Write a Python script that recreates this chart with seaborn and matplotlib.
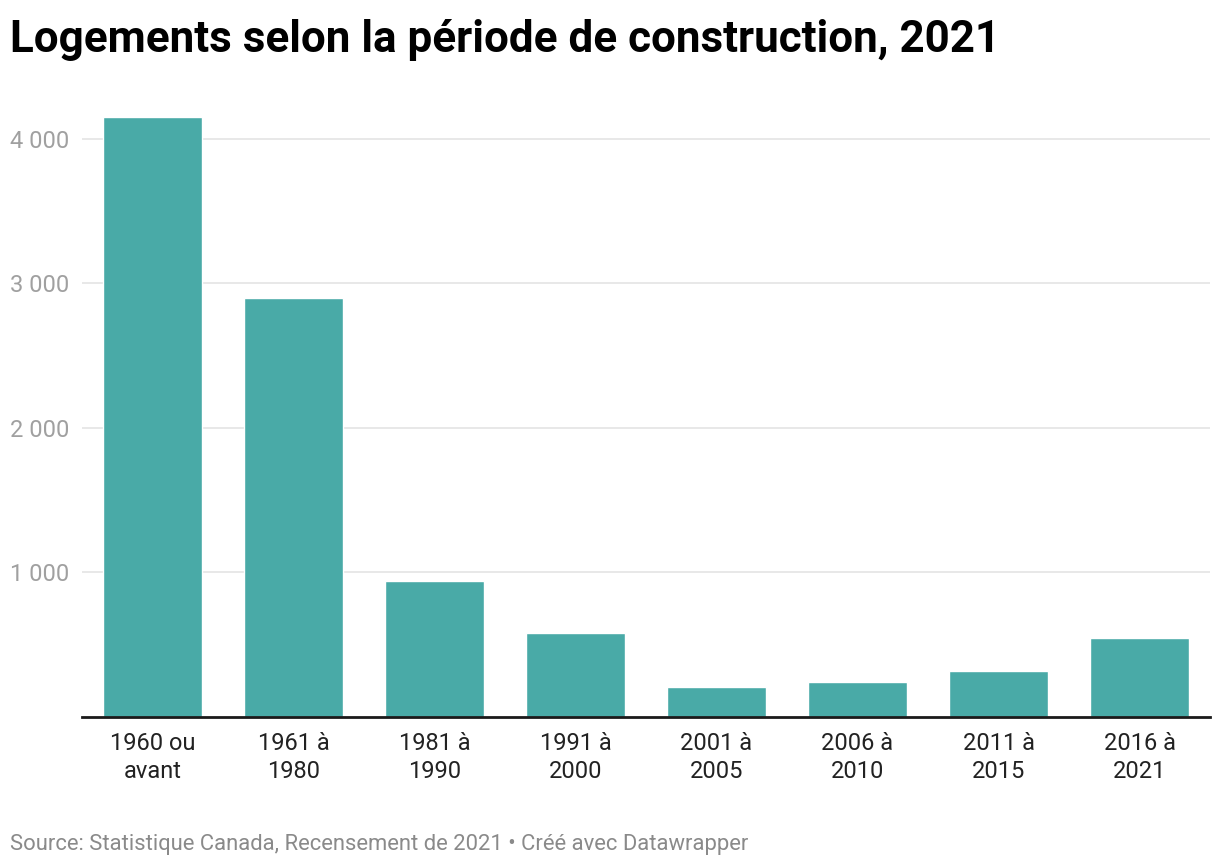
import matplotlib.pyplot as plt
import seaborn as sns
import pandas as pd

# Data
periodes = ['1960 ou\navant', '1961 à\n1980', '1981 à\n1990', '1991 à\n2000',
            '2001 à\n2005', '2006 à\n2010', '2011 à\n2015', '2016 à\n2021']
logements = [4150, 2900, 940, 580, 205, 240, 315, 550]
y_ticks = [1000, 2000, 3000, 4000]
y_tick_labels = ['1 000', '2 000', '3 000', '4 000']

df = pd.DataFrame({'Periode': periodes, 'Logements': logements})

sns.set_theme(style='white')
plt.rcParams['font.family'] = ['Roboto', 'DejaVu Sans']

fig = plt.figure(figsize=(12.2, 8.66), dpi=100)
ax = fig.add_axes([82 / 1220, 1 - 717 / 866, 1128 / 1220, 607 / 866])

sns.barplot(data=df, x='Periode', y='Logements', order=periodes,
            color='#49aaa7', saturation=1, width=0.70, ax=ax, zorder=2)

ax.set_xlim(-0.5, len(periodes) - 0.5)
ax.set_ylim(0, 4200)
ax.set_yticks(y_ticks)
ax.set_yticklabels(y_tick_labels)
ax.set_xlabel('')
ax.set_ylabel('')

# Grid and spines
ax.yaxis.grid(True, color='#e4e4e4', linewidth=1.2, zorder=0)
ax.xaxis.grid(False)
for side in ['top', 'right', 'left']:
    ax.spines[side].set_visible(False)
ax.spines['bottom'].set_color('#1a1a1a')
ax.spines['bottom'].set_linewidth(2)
ax.spines['bottom'].set_zorder(3)

ax.tick_params(axis='y', length=0, pad=9, labelsize=17, labelcolor='#a0a0a0')
ax.tick_params(axis='x', length=0, pad=11, labelsize=17, labelcolor='#222222')
for lab in ax.get_xticklabels():
    lab.set_linespacing(1.25)

fig.text(10 / 1220, 1 - 52 / 866, 'Logements selon la période de construction, 2021',
         fontsize=31.7, fontweight='bold', color='#000000', ha='left', va='baseline')
fig.text(10 / 1220, 1 - 850 / 866,
         'Source: Statistique Canada, Recensement de 2021 \u2022 Créé avec Datawrapper',
         fontsize=15.8, color='#8a8a8a', ha='left', va='baseline')

plt.savefig('out.png', dpi=100)
